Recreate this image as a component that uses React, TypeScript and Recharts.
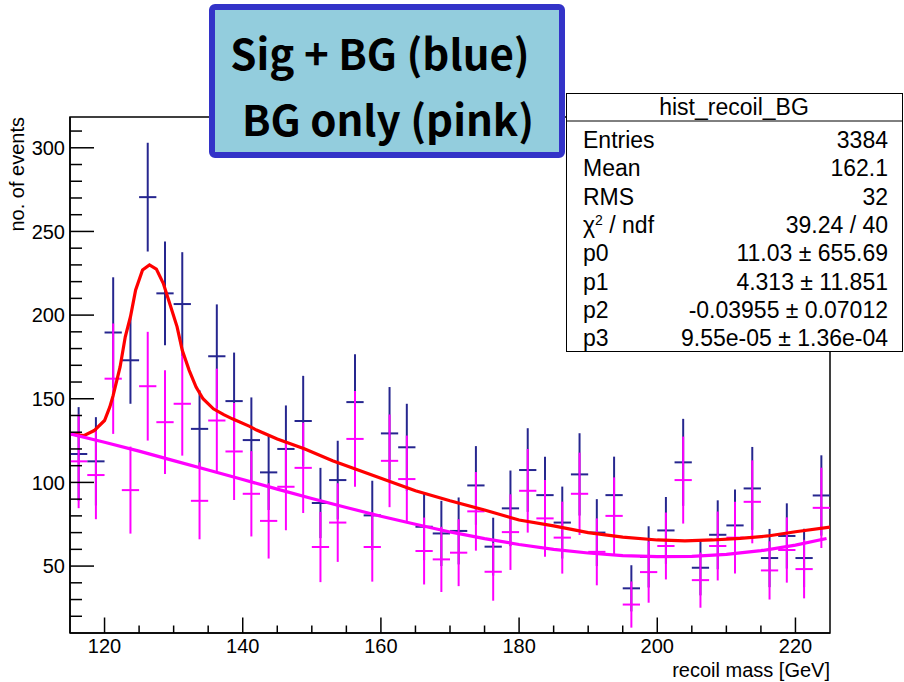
import React from 'react';
import { ComposedChart, XAxis, YAxis, Scatter, ErrorBar, Line, ReferenceArea } from 'recharts';

// ---- Data ----
const binCenters = [
  116.25, 118.75, 121.25, 123.75, 126.25, 128.75, 131.25, 133.75, 136.25, 138.75,
  141.25, 143.75, 146.25, 148.75, 151.25, 153.75, 156.25, 158.75, 161.25, 163.75,
  166.25, 168.75, 171.25, 173.75, 176.25, 178.75, 181.25, 183.75, 186.25, 188.75,
  191.25, 193.75, 196.25, 198.75, 201.25, 203.75, 206.25, 208.75, 211.25, 213.75,
  216.25, 218.75, 221.25, 223.75,
];
const sigBgCounts = [
  117, 112.6, 189.6, 173, 270.5, 213, 206.6, 132, 175.4, 148.6,
  125.3, 106, 120, 136.7, 87.7, 101.4, 148, 80.3, 129.3, 121,
  73.5, 69.5, 71, 98.2, 61.6, 84.5, 107.4, 92.4, 76, 104.8,
  70, 92.4, 36.7, 55.5, 71.3, 112, 49, 68.7, 74.3, 96.4,
  54.8, 68, 54.8, 92.2,
];
const bgOnlyCounts = [
  112.6, 104.4, 162, 95.4, 157.5, 136, 147, 89, 137, 118.5,
  93.2, 77, 97.4, 108.7, 61.4, 76, 126, 61.4, 112.9, 102,
  59, 54, 58, 82.7, 46.6, 70.3, 95, 78.5, 67, 93.2,
  58.5, 80, 27, 46.4, 62, 101.4, 41.6, 62, 67, 88.4,
  47.4, 59.6, 48.2, 84.8,
];
const binErrors = [
  28, 26.4, 33, 26, 32.5, 31, 31, 23, 31, 29,
  25.5, 22.5, 26, 27, 21, 23.5, 28.6, 20.7, 27.7, 26,
  20, 19.5, 20, 23.5, 17.3, 22.6, 25, 23, 21.5, 24.6,
  20, 23, 13.8, 18.3, 20, 26, 16.5, 20.6, 21.5, 24.8,
  17.4, 19.5, 17.5, 24,
];
const binHalfWidth = 1.25;

const sigBgFitX = [
  115, 117, 118.5, 120, 120.75, 121.25, 122.25, 123, 123.75, 124.5,
  125.5, 126.5, 127.5, 128.5, 129.5, 130.5, 131.25, 132.25, 133.25, 134.25,
  135.75, 137.25, 138.5, 141, 142, 145, 149, 153, 156, 160,
  165, 170, 175, 180, 185, 190, 195, 200, 204, 208,
  212, 216, 220, 225,
];
const sigBgFitY = [
  129, 128, 131, 137, 145, 152, 169, 187, 199, 215,
  227, 230, 227.5, 219, 206, 193, 179, 167, 157, 150,
  144, 140.5, 138, 133.5, 131.3, 126, 120, 113, 108.5, 102.5,
  95, 89, 83.5, 77.5, 74, 70, 67.3, 65.6, 65.1, 65.6,
  66.5, 68, 70.5, 73.3,
];
const bgFitX = [
  115, 120, 125, 130, 135, 140, 145, 150, 155, 160, 165, 170,
  175, 180, 185, 190, 195, 200, 205, 210, 215, 220, 224.5,
];
const bgFitY = [
  129, 124, 118.7, 113, 107.4, 101.7, 96, 90.4, 85, 79.8, 75, 70.4,
  66.4, 62.9, 60, 57.8, 56.3, 55.6, 55.8, 57, 59.2, 62.5, 66.5,
];

const xTicks = [120, 125, 130, 135, 140, 145, 150, 155, 160, 165, 170, 175, 180, 185, 190, 195, 200, 205, 210, 215, 220];
const xTickLabels = [120, 140, 160, 180, 200, 220];
const yTicks = [20, 30, 40, 50, 60, 70, 80, 90, 100, 110, 120, 130, 140, 150, 160, 170, 180, 190, 200, 210, 220, 230, 240, 250, 260, 270, 280, 290, 300, 310];
const yTickLabels = [50, 100, 150, 200, 250, 300];

const statsRows: [string, string][] = [
  ['Entries', '3384'],
  ['Mean', '162.1'],
  ['RMS', '32'],
  ['CHI', '39.24 / 40'],
  ['p0', '11.03 \u00b1 655.69'],
  ['p1', '4.313 \u00b1 11.851'],
  ['p2', '-0.03955 \u00b1 0.07012'],
  ['p3', '9.55e-05 \u00b1 1.36e-04'],
];

// ---- Built tables ----
const sigBgPoints = binCenters.map((x, i) => ({ x, y: sigBgCounts[i], ey: binErrors[i], ex: binHalfWidth }));
const bgPoints = binCenters.map((x, i) => ({ x, y: bgOnlyCounts[i], ey: binErrors[i], ex: binHalfWidth }));
const sigBgFit = sigBgFitX.map((x, i) => ({ x, y: sigBgFitY[i] }));
const bgFit = bgFitX.map((x, i) => ({ x, y: bgFitY[i] }));

const BLUE = '#26268f';
const PINK = '#ff00ff';
const RED = '#ff0000';
const FONT = '"Liberation Sans", Arial, Helvetica, sans-serif';

const XTick = (props: any) => {
  const { x, y, payload } = props;
  const v = payload.value;
  const major = xTickLabels.includes(v);
  return (
    <g>
      <line x1={x} x2={x} y1={y} y2={y - (major ? 15.5 : 7.5)} stroke="#000" strokeWidth={1.5} />
      {major && (
        <text x={x} y={y + 20} textAnchor="middle" fontFamily={FONT} fontSize={20} fill="#000">
          {v}
        </text>
      )}
    </g>
  );
};

const YTick = (props: any) => {
  const { x, y, payload } = props;
  const v = payload.value;
  const major = yTickLabels.includes(v);
  return (
    <g>
      <line x1={x} x2={x + (major ? 24 : 12)} y1={y} y2={y} stroke="#000" strokeWidth={1.5} />
      {major && (
        <text x={x - 5} y={y} dy="0.36em" textAnchor="end" fontFamily={FONT} fontSize={20} fill="#000">
          {v}
        </text>
      )}
    </g>
  );
};

const NoShape = () => <g />;

export default function App() {
  return (
    <div style={{ position: 'absolute', left: 0, top: 0, width: 904, height: 682, background: '#fff' }}>
      <ComposedChart
        width={904}
        height={682}
        margin={{ top: 117, right: 74, left: 0, bottom: 0 }}
      >
        <XAxis
          dataKey="x"
          type="number"
          domain={[115, 225]}
          allowDataOverflow
          ticks={xTicks}
          interval={0}
          height={49}
          tickSize={0}
          tickMargin={0}
          tickLine={false}
          axisLine={{ stroke: '#000', strokeWidth: 1.5 }}
          tick={<XTick />}
          label={(p: any) => (
            <text x={830} y={677} textAnchor="end" fontFamily={FONT} fontSize={20} fill="#000">
              recoil mass [GeV]
            </text>
          )}
        />
        <YAxis
          type="number"
          domain={[10, 318.4]}
          allowDataOverflow
          ticks={yTicks}
          interval={0}
          width={70}
          tickSize={0}
          tickMargin={0}
          tickLine={false}
          axisLine={{ stroke: '#000', strokeWidth: 1.5 }}
          tick={<YTick />}
          label={(p: any) => (
            <text
              x={24}
              y={117}
              transform="rotate(-90 24 117)"
              textAnchor="end"
              fontFamily={FONT}
              fontSize={20}
              fill="#000"
            >
              no. of events
            </text>
          )}
        />
        <ReferenceArea x1={115} x2={225} y1={10} y2={318.4} fill="none" stroke="#000" strokeWidth={1.5} ifOverflow="visible" />
        <Scatter data={sigBgPoints} dataKey="y" shape={<NoShape />} isAnimationActive={false}>
          <ErrorBar dataKey="ey" direction="y" width={0} stroke={BLUE} strokeWidth={2} isAnimationActive={false} />
          <ErrorBar dataKey="ex" direction="x" width={0} stroke={BLUE} strokeWidth={2} isAnimationActive={false} />
        </Scatter>
        <Scatter data={bgPoints} dataKey="y" shape={<NoShape />} isAnimationActive={false}>
          <ErrorBar dataKey="ey" direction="y" width={0} stroke={PINK} strokeWidth={2} isAnimationActive={false} />
          <ErrorBar dataKey="ex" direction="x" width={0} stroke={PINK} strokeWidth={2} isAnimationActive={false} />
        </Scatter>
        <Line data={sigBgFit} dataKey="y" type="linear" stroke={RED} strokeWidth={3.2} dot={false} activeDot={false} isAnimationActive={false} />
        <Line data={bgFit} dataKey="y" type="linear" stroke={PINK} strokeWidth={3.2} dot={false} activeDot={false} isAnimationActive={false} />
      </ComposedChart>

      <svg width={904} height={682} style={{ position: 'absolute', left: 0, top: 0, pointerEvents: 'none' }}>
        <rect x={212} y={7} width={350} height={148} rx={3} fill="#93cddd" stroke="#3333c8" strokeWidth={6} />
        <text x={380} y={70} textAnchor="middle" fontFamily='"Noto Sans CJK JP", sans-serif' fontWeight="bold" fontSize={42} fill="#000">
          Sig + BG (blue)
        </text>
        <text x={388} y={136} textAnchor="middle" fontFamily='"Noto Sans CJK JP", sans-serif' fontWeight="bold" fontSize={42} fill="#000">
          BG only (pink)
        </text>

        <rect x={566.5} y={93.5} width={336} height={258} fill="#fff" stroke="#000" strokeWidth={1} />
        <line x1={566.5} x2={902.5} y1={121} y2={121} stroke="#000" strokeWidth={1} />
        <text x={734} y={115} textAnchor="middle" fontFamily={FONT} fontSize={23} fill="#000">
          hist_recoil_BG
        </text>
        {statsRows.map(([label, value], i) => {
          const yb = 148 + i * 28.3;
          return (
            <g key={i}>
              {label === 'CHI' ? (
                <text x={583} y={yb} fontFamily={FONT} fontSize={23} fill="#000">
                  <tspan>χ</tspan>
                  <tspan dy={-8} fontSize={14}>2</tspan>
                  <tspan dy={8}> / ndf</tspan>
                </text>
              ) : (
                <text x={583} y={yb} fontFamily={FONT} fontSize={23} fill="#000">
                  {label}
                </text>
              )}
              <text x={888} y={yb} textAnchor="end" fontFamily={FONT} fontSize={23} fill="#000">
                {value}
              </text>
            </g>
          );
        })}
      </svg>
    </div>
  );
}
